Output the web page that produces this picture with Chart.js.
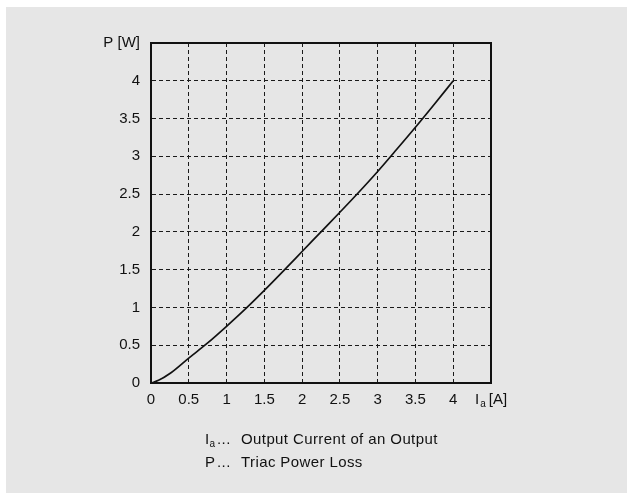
<!DOCTYPE html>
<html>
<head>
<meta charset="utf-8">
<script src="https://cdn.jsdelivr.net/npm/chart.js@4/dist/chart.umd.min.js"></script>
<style>
  html, body { margin: 0; padding: 0; background: #e6e6e6; overflow: hidden; }
  #wrap { width: 627px; height: 493px; position: relative; }
  #c { display: block; }
</style>
</head>
<body>
<div id="wrap"><canvas id="c" width="627" height="493"></canvas></div>
<script>
// Output current I_a [A] and triac power loss P [W]
const currentA = [0, 0.1, 0.25, 0.5, 0.75, 1.0, 1.25, 1.5, 1.75, 2.0, 2.25, 2.5, 2.75, 3.0, 3.25, 3.5, 3.75, 4.0];
const powerW   = [0, 0.035, 0.125, 0.33, 0.53, 0.75, 0.98, 1.225, 1.48, 1.74, 2.0, 2.26, 2.525, 2.8, 3.09, 3.385, 3.69, 4.0];
const xTicks = [0, 0.5, 1, 1.5, 2, 2.5, 3, 3.5, 4];
const yTicks = [0, 0.5, 1, 1.5, 2, 2.5, 3, 3.5, 4];
const legendLines = [
  { sym: 'I', sub: 'a', text: 'Output Current of an Output' },
  { sym: 'P', sub: '', text: 'Triac Power Loss' }
];

const FONT = '"Liberation Sans", Arial, Helvetica, sans-serif';
const INK = '#111111';

const fmt = v => String(v);

const decor = {
  id: 'decor',
  beforeDraw(chart) {
    const ctx = chart.ctx;
    ctx.save();
    ctx.fillStyle = '#ffffff';
    ctx.fillRect(0, 0, chart.width, chart.height);
    ctx.fillStyle = '#e6e6e6';
    ctx.fillRect(6, 7, chart.width - 6, chart.height - 7);
    ctx.restore();
  },
  afterDraw(chart) {
    const ctx = chart.ctx;
    const a = chart.chartArea;
    ctx.save();
    // frame on top and right
    ctx.strokeStyle = INK;
    ctx.lineWidth = 2;
    ctx.beginPath();
    ctx.moveTo(a.left, a.top);
    ctx.lineTo(a.right, a.top);
    ctx.lineTo(a.right, a.bottom);
    ctx.stroke();

    ctx.fillStyle = INK;
    ctx.font = '15px ' + FONT;
    // y axis title
    ctx.textAlign = 'right';
    ctx.textBaseline = 'middle';
    ctx.fillText('P [W]', a.left - 11, a.top);
    // x axis title with subscript
    ctx.textAlign = 'left';
    ctx.textBaseline = 'alphabetic';
    const xb = a.bottom + 21;
    let x = a.right - 16;
    ctx.fillText('I', x, xb);
    x += ctx.measureText('I').width + 1;
    ctx.font = '10px ' + FONT;
    ctx.fillText('a', x, xb + 3);
    x += ctx.measureText('a').width + 3;
    ctx.font = '15px ' + FONT;
    ctx.fillText('[A]', x, xb);

    // explanation lines
    const lx = 205, dx = 217, tx = 241;
    const bases = [444, 467];
    ctx.letterSpacing = '0.4px';
    legendLines.forEach((ln, i) => {
      const b = bases[i];
      ctx.font = '15px ' + FONT;
      ctx.fillText(ln.sym, lx, b);
      if (ln.sub) {
        const px = lx + ctx.measureText(ln.sym).width;
        ctx.font = '10px ' + FONT;
        ctx.fillText(ln.sub, px, b + 3);
      }
      ctx.font = '15px ' + FONT;
      ctx.fillText('...', dx, b);
      ctx.fillText(ln.text, tx, b);
    });
    ctx.restore();
  }
};

new Chart(document.getElementById('c'), {
  type: 'line',
  data: {
    datasets: [{
      data: currentA.map((v, i) => ({ x: v, y: powerW[i] })),
      borderColor: INK,
      borderWidth: 1.7,
      pointRadius: 0,
      cubicInterpolationMode: 'monotone',
      fill: false
    }]
  },
  options: {
    responsive: false,
    animation: false,
    devicePixelRatio: 1,
    layout: { padding: { left: 0, top: 43, right: 136, bottom: 0 } },
    plugins: { legend: { display: false }, tooltip: { enabled: false } },
    scales: {
      x: {
        type: 'linear',
        min: 0, max: 4.5,
        afterBuildTicks: s => { s.ticks = xTicks.concat([4.5]).map(v => ({ value: v })); },
        afterFit: s => { s.height = 110; },
        grid: { color: c => (c.tick && c.tick.value === 4.5) ? 'rgba(0,0,0,0)' : '#1a1a1a', lineWidth: 1, drawTicks: false },
        border: { display: true, color: INK, width: 2, dash: [4, 3] },
        ticks: {
          padding: 8, color: INK, font: { family: FONT, size: 15 },
          maxRotation: 0, autoSkip: false,
          callback: v => xTicks.includes(v) ? fmt(v) : ''
        }
      },
      y: {
        type: 'linear',
        min: 0, max: 4.5,
        afterBuildTicks: s => { s.ticks = yTicks.concat([4.5]).map(v => ({ value: v })); },
        afterFit: s => { s.width = 151; },
        grid: { color: c => (c.tick && c.tick.value === 4.5) ? 'rgba(0,0,0,0)' : '#1a1a1a', lineWidth: 1, drawTicks: false },
        border: { display: true, color: INK, width: 2, dash: [4, 3] },
        ticks: {
          padding: 11, color: INK, font: { family: FONT, size: 15 },
          autoSkip: false,
          callback: v => yTicks.includes(v) ? fmt(v) : ''
        }
      }
    }
  },
  plugins: [decor]
});
</script>
</body>
</html>
